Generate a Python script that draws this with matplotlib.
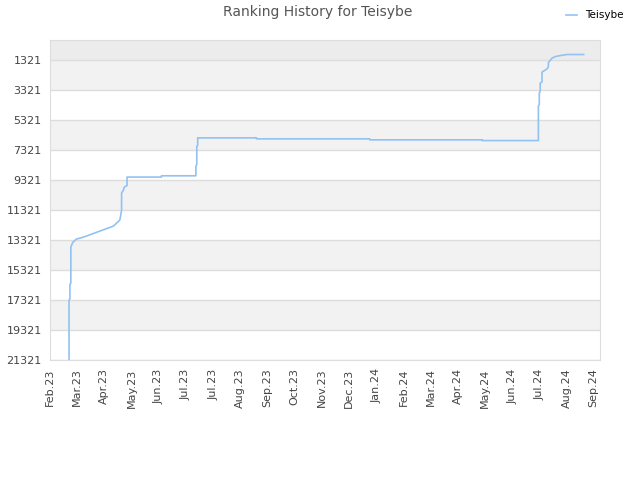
import matplotlib
matplotlib.use("Agg")
import matplotlib.pyplot as plt
import matplotlib.dates as mdates
import pandas as pd
import numpy as np

series_name = "Teisybe"
dates = [
    "2023-02-22", "2023-02-22", "2023-02-23", "2023-02-23", "2023-02-24", "2023-02-24",
    "2023-02-26", "2023-03-02", "2023-03-10", "2023-03-28", "2023-04-12", "2023-04-19",
    "2023-04-20", "2023-04-21", "2023-04-21", "2023-04-23", "2023-04-24", "2023-04-27",
    "2023-04-27", "2023-06-04", "2023-06-04", "2023-07-12", "2023-07-12", "2023-07-13",
    "2023-07-13", "2023-07-14", "2023-07-14", "2023-09-17", "2023-09-17", "2024-01-20",
    "2024-01-20", "2024-05-23", "2024-05-23", "2024-07-24", "2024-07-24", "2024-07-25",
    "2024-07-25", "2024-07-26", "2024-07-26", "2024-07-28", "2024-07-28", "2024-07-29",
    "2024-08-01", "2024-08-03", "2024-08-04", "2024-08-04", "2024-08-06", "2024-08-08",
    "2024-08-12", "2024-08-16", "2024-08-20", "2024-08-25", "2024-09-12",
]
ranks = [
    21321, 17321, 17250, 16267, 16200, 13800,
    13500, 13267, 13133, 12733, 12400, 12000,
    11700, 11333, 10200, 10000, 9800, 9700,
    9133, 9133, 9047, 9047, 8400, 8300,
    7100, 7000, 6520, 6520, 6587, 6587,
    6653, 6653, 6700, 6700, 4387, 4300,
    3540, 3400, 2873, 2800, 2140, 2100,
    1987, 1900, 1767, 1500, 1367, 1207,
    1100, 1053, 1007, 967, 967,
]
tick_dates = pd.date_range("2023-02-01", periods=21, freq="30D")
tick_labels = ["Feb.23", "Mar.23", "Apr.23", "May.23", "Jun.23", "Jul.23", "Jul.23",
               "Aug.23", "Sep.23", "Oct.23", "Nov.23", "Dec.23", "Jan.24", "Feb.24",
               "Mar.24", "Apr.24", "May.24", "Jun.24", "Jul.24", "Aug.24", "Sep.24"]
y_ticks = list(range(1321, 21322, 2000))

fig = plt.figure(figsize=(6.4, 4.8), dpi=100)
ax = fig.add_axes([50/640, 120/480, 550/640, 320/480])

x = pd.to_datetime(dates)
ax.plot(x, ranks, color="#92c2f2", lw=1.2, label=series_name, zorder=3)

# bands
ax.axhspan(-700, 1321, color="#ececec", zorder=0, lw=0)
for lo in range(1321, 21321, 4000):
    ax.axhspan(lo, lo + 2000, color="#f2f2f2", zorder=0, lw=0)

ax.set_ylim(21321, 0)
ax.set_xlim(pd.Timestamp("2023-02-01"), pd.Timestamp("2024-09-30"))
ax.set_yticks(y_ticks)
ax.set_yticklabels([str(v) for v in y_ticks], fontsize=8, color="#444444")
ax.set_xticks(tick_dates)
ax.set_xticklabels(tick_labels, rotation=90, fontsize=8, color="#444444")
ax.tick_params(length=0, pad=6)
ax.grid(axis="y", color="#dddddd", lw=1, zorder=1)
ax.set_axisbelow(True)
for s in ax.spines.values():
    s.set_color("#dddddd")

fig.text(318/640, 1 - 12/480, "Ranking History for Teisybe", ha="center", va="center",
         fontsize=10, color="#555555")
leg = fig.legend(loc="upper right", bbox_to_anchor=(633/640, 1 - 1/480), frameon=False,
                 fontsize=7.5, handlelength=1.0, handletextpad=0.8)

fig.savefig("out.png", dpi=100)
